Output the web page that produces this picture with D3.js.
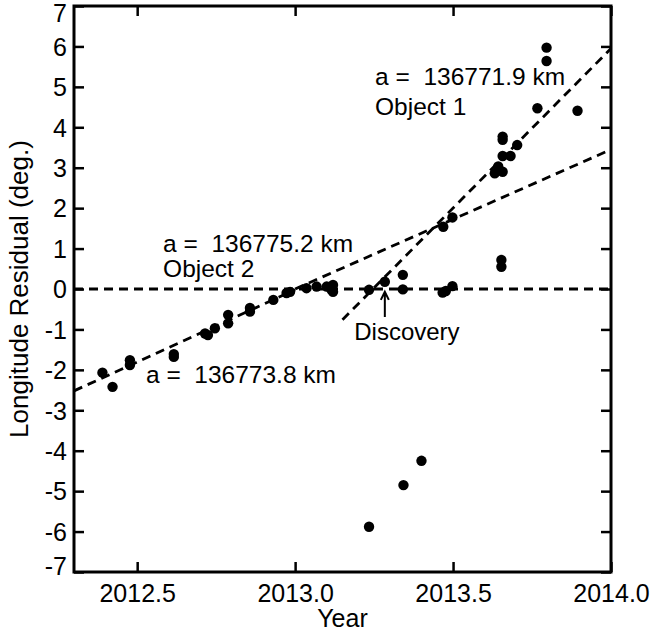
<!DOCTYPE html>
<html>
<head>
<meta charset="utf-8">
<script src="https://cdn.jsdelivr.net/npm/d3@7"></script>
<style>
  body { margin: 0; background: #fff; }
  text { font-family: "Liberation Sans", Arial, Helvetica, sans-serif; fill: #000; }
</style>
</head>
<body>
<div id="vis"></div>
<script>
// data
const years = [2012.390, 2012.422, 2012.477, 2012.477, 2012.616, 2012.616, 2012.715, 2012.724,
  2012.746, 2012.788, 2012.788, 2012.857, 2012.857, 2012.931, 2012.973, 2012.984,
  2013.036, 2013.068, 2013.100, 2013.115, 2013.120, 2013.120, 2013.234, 2013.284,
  2013.341, 2013.341, 2013.467, 2013.477, 2013.498, 2013.469, 2013.498, 2013.653,
  2013.653, 2013.657, 2013.657, 2013.703, 2013.657, 2013.682, 2013.643, 2013.632,
  2013.657, 2013.767, 2013.796, 2013.796, 2013.894, 2013.234, 2013.343, 2013.400];
const residuals = [-2.07, -2.42, -1.76, -1.88, -1.61, -1.68, -1.10, -1.14,
  -0.97, -0.85, -0.64, -0.56, -0.47, -0.27, -0.10, -0.07,
  0.02, 0.06, 0.06, -0.02, 0.10, -0.07, -0.02, 0.18,
  0.35, -0.01, -0.09, -0.05, 0.07, 1.54, 1.77, 0.72,
  0.55, 3.77, 3.69, 3.56, 3.29, 3.29, 3.03, 2.86,
  2.90, 4.47, 5.97, 5.64, 4.41, -5.88, -4.85, -4.25];

// dashed fit lines [x0, x1], [y0, y1]
const zeroX = [2012.3, 2014.0], zeroY = [0, 0];
const fit1X = [2012.3, 2013.0], fit1Y = [-2.52, -0.02];   // a = 136773.8 km
const fit2X = [2013.0, 2014.0], fit2Y = [0.0, 3.45];      // a = 136775.2 km
const fit3X = [2013.15, 2014.0], fit3Y = [-0.76, 5.95];   // a = 136771.9 km

const xTicks = [2012.5, 2013.0, 2013.5, 2014.0];
const yTicks = [-7, -6, -5, -4, -3, -2, -1, 0, 1, 2, 3, 4, 5, 6, 7];

// margin
const margin = { top: 6, right: 41, bottom: 61, left: 74 };
const width = 652 - margin.left - margin.right;
const height = 633 - margin.top - margin.bottom;

const svg = d3.select('#vis')
    .append('svg')
    .attr('width', 652)
    .attr('height', 633)
    .append('g')
    .attr('transform', `translate(${margin.left},${margin.top})`);

// scales
const xScale = d3.scaleLinear().domain([2012.3, 2014.0]).range([0, width]);
const yScale = d3.scaleLinear().domain([-7, 7]).range([height, 0]);

// axes, ticks pointing inward
const tickLen = 10;
const xAxis = d3.axisBottom(xScale).tickValues(xTicks).tickFormat(d3.format('.1f'))
    .tickSizeInner(-tickLen).tickSizeOuter(0).tickPadding(12);
const yAxis = d3.axisLeft(yScale).tickValues(yTicks).tickFormat(d => d < 0 ? '-' + Math.abs(d) : d)
    .tickSizeInner(-tickLen).tickSizeOuter(0).tickPadding(7);

const gx = svg.append('g').attr('transform', `translate(0,${height})`).call(xAxis);
const gy = svg.append('g').call(yAxis);
svg.append('g').call(d3.axisTop(xScale).tickValues(xTicks).tickFormat('').tickSizeInner(-tickLen).tickSizeOuter(0));
svg.append('g').attr('transform', `translate(${width},0)`)
    .call(d3.axisRight(yScale).tickValues(yTicks).tickFormat('').tickSizeInner(-tickLen).tickSizeOuter(0));

svg.selectAll('.domain').remove();
svg.selectAll('.tick line').attr('stroke', '#000').attr('stroke-width', 2.5);
svg.selectAll('.tick text').style('font-size', '25px').attr('fill', '#000');
gy.selectAll('.tick text').attr('dy', d => d === 7 ? '0.6em' : d === -7 ? '0.1em' : '0.35em');

// frame
svg.append('rect')
    .attr('x', 0).attr('y', 0)
    .attr('width', width).attr('height', height)
    .attr('fill', 'none').attr('stroke', '#000').attr('stroke-width', 3);

// dashed lines
const line = d3.line().x(d => xScale(d[0])).y(d => yScale(d[1]));
[[zeroX, zeroY], [fit1X, fit1Y], [fit2X, fit2Y], [fit3X, fit3Y]].forEach(([lx, ly]) => {
    svg.append('path')
        .attr('d', line(d3.zip(lx, ly)))
        .attr('fill', 'none')
        .attr('stroke', '#000')
        .attr('stroke-width', 2.8)
        .attr('stroke-dasharray', '9,6');
});

// points
svg.selectAll('.point')
    .data(d3.zip(years, residuals))
    .join('circle')
    .attr('class', 'point')
    .attr('cx', d => xScale(d[0]))
    .attr('cy', d => yScale(d[1]))
    .attr('r', 5.2)
    .attr('fill', '#000');

// annotations
const labels = [
    { t: 'a =\u00a0\u00a0136771.9 km', x: 2013.253, y: 5.05 },
    { t: 'Object 1', x: 2013.253, y: 4.30 },
    { t: 'a =\u00a0\u00a0136775.2 km', x: 2012.582, y: 0.92 },
    { t: 'Object 2', x: 2012.582, y: 0.30 },
    { t: 'a =\u00a0\u00a0136773.8 km', x: 2012.528, y: -2.32 }
];
svg.selectAll('.ann')
    .data(labels)
    .join('text')
    .attr('class', 'ann')
    .attr('x', d => xScale(d.x))
    .attr('y', d => yScale(d.y))
    .style('font-size', '24.5px')
    .text(d => d.t);

svg.append('text')
    .attr('x', xScale(2013.354))
    .attr('y', yScale(-1.26))
    .attr('text-anchor', 'middle')
    .style('font-size', '24px')
    .text('Discovery');

// arrow
const ax = xScale(2013.284), ay0 = yScale(-0.69), ay1 = yScale(-0.07);
svg.append('path')
    .attr('d', `M${ax},${ay0}L${ax},${ay1}M${ax - 4},${ay1 + 8}L${ax},${ay1}L${ax + 4},${ay1 + 8}`)
    .attr('fill', 'none').attr('stroke', '#000').attr('stroke-width', 2);

// axis titles
svg.append('text')
    .attr('x', width / 2)
    .attr('y', height + 55)
    .attr('text-anchor', 'middle')
    .style('font-size', '25px')
    .text('Year');

svg.append('text')
    .attr('transform', `translate(${-46},${height / 2}) rotate(-90)`)
    .attr('text-anchor', 'middle')
    .style('font-size', '26px')
    .text('Longitude Residual (deg.)');
</script>
</body>
</html>
